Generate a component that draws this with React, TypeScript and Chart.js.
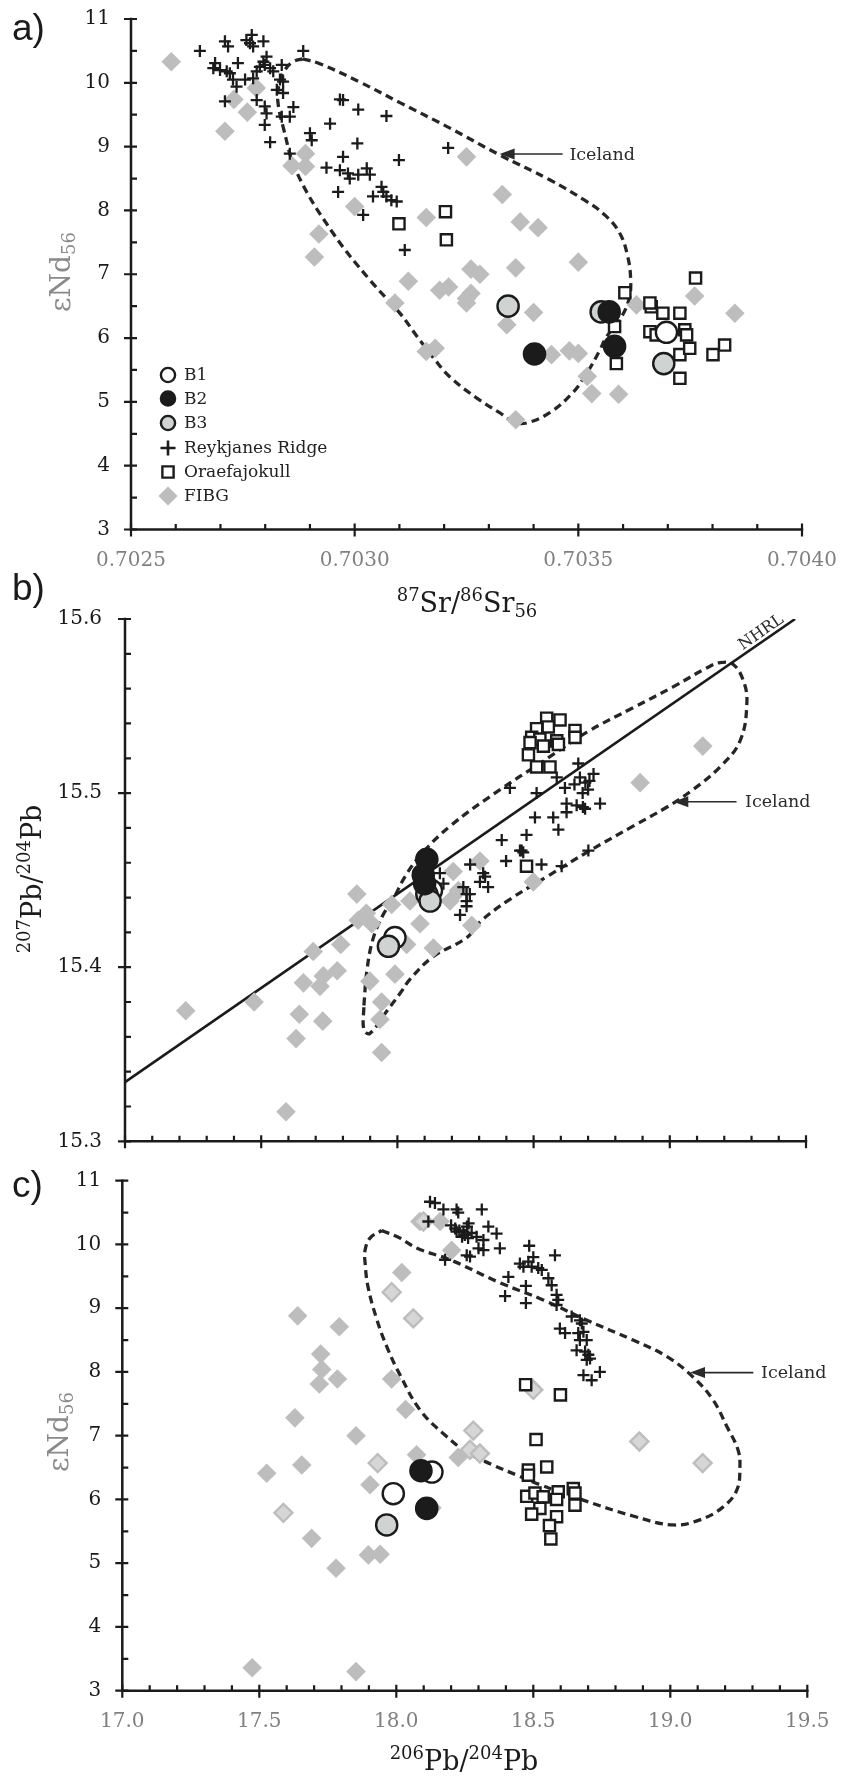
import React, { useEffect, useRef } from 'react';
import { Chart, registerables } from 'chart.js';

Chart.register(...registerables);

type Pt = [number, number];

// ---------------- Panel a : εNd56 vs 87Sr/86Sr56 ----------------
const A_X_TICKS = [0.7025, 0.703, 0.7035, 0.704];
const A_Y_TICKS = [3, 4, 5, 6, 7, 8, 9, 10, 11];

const A_B1: Pt[] = [[0.703697, 6.09]];
const A_B2: Pt[] = [[0.703402, 5.75], [0.703569, 6.41], [0.703581, 5.87]];
const A_B3: Pt[] = [[0.703343, 6.5], [0.703551, 6.41], [0.703691, 5.6]];

const A_REYKJANES: Pt[] = [
  [0.702654, 10.5], [0.70271, 10.65], [0.702717, 10.57], [0.702758, 10.67], [0.70277, 10.75],
  [0.702766, 10.62], [0.702773, 10.57], [0.702796, 10.65], [0.702688, 10.31], [0.702684, 10.23],
  [0.702699, 10.2], [0.702714, 10.18], [0.702721, 10.15], [0.702739, 10.31], [0.702728, 10.05],
  [0.702736, 9.94], [0.702755, 10.05], [0.702773, 10.07], [0.702781, 10.18], [0.702788, 10.25],
  [0.702796, 10.33], [0.702803, 10.41], [0.702799, 10.28], [0.702811, 10.23], [0.702818, 10.18],
  [0.702837, 10.28], [0.702833, 10.05], [0.70284, 10.02], [0.702826, 9.89], [0.70284, 9.84],
  [0.70271, 9.71], [0.702781, 9.73], [0.702799, 9.63], [0.702803, 9.52], [0.702799, 9.34],
  [0.702837, 9.47], [0.702855, 9.47], [0.702863, 9.62], [0.702811, 9.07], [0.702855, 8.89],
  [0.702885, 10.5], [0.7029, 9.21], [0.702904, 9.1], [0.702945, 9.36], [0.702967, 9.74],
  [0.702974, 9.73], [0.703008, 9.58], [0.703071, 9.48], [0.703006, 9.05], [0.702974, 8.84],
  [0.703099, 8.79], [0.702937, 8.67], [0.702967, 8.63], [0.702985, 8.58], [0.702989, 8.5],
  [0.703008, 8.56], [0.703027, 8.66], [0.703034, 8.56], [0.702963, 8.29], [0.703041, 8.22],
  [0.70306, 8.37], [0.703064, 8.29], [0.703071, 8.22], [0.703082, 8.16], [0.703094, 8.14],
  [0.703019, 7.93], [0.703112, 7.38], [0.703209, 8.98],
];

const A_ORAEFAJOKULL: Pt[] = [
  [0.703099, 7.79], [0.703203, 7.98], [0.703205, 7.54], [0.703604, 6.71], [0.703762, 6.94],
  [0.703663, 6.49], [0.703689, 6.39], [0.703727, 6.39], [0.703581, 6.18], [0.70366, 6.1],
  [0.703674, 6.05], [0.703738, 6.13], [0.703742, 6.05], [0.703727, 5.74], [0.703749, 5.84],
  [0.703801, 5.74], [0.703827, 5.89], [0.703585, 5.6], [0.703727, 5.37], [0.70366, 6.55],
];

const A_FIBG: Pt[] = [
  [0.70259, 10.33], [0.70273, 9.74], [0.70278, 9.92], [0.70276, 9.54], [0.70271, 9.24],
  [0.70289, 8.89], [0.70286, 8.7], [0.70289, 8.69], [0.703, 8.06], [0.70292, 7.63],
  [0.70291, 7.27], [0.70312, 6.89], [0.70316, 7.89], [0.70325, 8.84], [0.70333, 8.25],
  [0.70337, 7.82], [0.70341, 7.73], [0.7035, 7.19], [0.70336, 7.1], [0.70326, 7.08],
  [0.70328, 7.0], [0.70319, 6.75], [0.70321, 6.8], [0.70326, 6.7], [0.70376, 6.66],
  [0.70325, 6.62], [0.70325, 6.55], [0.7034, 6.4], [0.70334, 6.21], [0.70385, 6.39],
  [0.70363, 6.52], [0.70316, 5.79], [0.70318, 5.84], [0.70344, 5.74], [0.70348, 5.8],
  [0.7035, 5.76], [0.70352, 5.4], [0.70353, 5.13], [0.70359, 5.12], [0.70336, 4.72],
  [0.70309, 6.55],
];

const A_ICELAND: Pt[] = [
  [0.702884, 10.375], [0.702922, 10.3], [0.703012, 10.01], [0.703101, 9.69], [0.703213, 9.29],
  [0.703324, 8.87], [0.703436, 8.48], [0.703514, 8.16], [0.703559, 7.93], [0.703592, 7.65],
  [0.70361, 7.29], [0.703617, 6.91], [0.703613, 6.6], [0.703592, 6.28], [0.703563, 6.02],
  [0.703548, 5.81], [0.703519, 5.45], [0.703487, 5.14], [0.703436, 4.83], [0.703385, 4.67],
  [0.703358, 4.68], [0.703324, 4.83], [0.703273, 5.06], [0.703213, 5.39], [0.703175, 5.7],
  [0.703139, 6.03], [0.703101, 6.39], [0.703034, 6.91], [0.702951, 7.65], [0.702871, 8.59],
  [0.70284, 9.31], [0.702828, 9.73], [0.702831, 9.97], [0.702844, 10.2], [0.702862, 10.33],
  [0.702884, 10.375],
];

// ---------------- Panel b : 207Pb/204Pb vs 206Pb/204Pb ----------------
const B_X_TICKS = [17.0, 17.5, 18.0, 18.5, 19.0, 19.5];
const B_Y_TICKS = [15.3, 15.4, 15.5, 15.6];

const B_B1: Pt[] = [[17.991, 15.417], [18.125, 15.444]];
const B_B2: Pt[] = [[18.108, 15.462], [18.095, 15.453], [18.1, 15.448]];
const B_B3: Pt[] = [[18.108, 15.442], [18.12, 15.438], [17.967, 15.412]];

const B_REYKJANES: Pt[] = [
  [18.413, 15.503], [18.511, 15.5], [18.664, 15.517], [18.585, 15.509], [18.615, 15.503],
  [18.65, 15.505], [18.67, 15.509], [18.69, 15.506], [18.705, 15.507], [18.72, 15.511],
  [18.68, 15.5], [18.7, 15.502], [18.621, 15.494], [18.621, 15.489], [18.658, 15.493],
  [18.681, 15.492], [18.689, 15.491], [18.744, 15.494], [18.505, 15.486], [18.572, 15.486],
  [18.591, 15.479], [18.474, 15.476], [18.383, 15.473], [18.45, 15.467], [18.456, 15.467],
  [18.462, 15.466], [18.399, 15.461], [18.529, 15.459], [18.603, 15.458], [18.701, 15.467],
  [18.267, 15.459], [18.315, 15.454], [18.322, 15.452], [18.303, 15.449], [18.333, 15.446],
  [18.242, 15.446], [18.254, 15.442], [18.266, 15.442], [18.254, 15.438], [18.254, 15.435],
  [18.23, 15.43], [18.156, 15.454], [18.169, 15.448],
];

const B_ORAEFAJOKULL: Pt[] = [
  [18.548, 15.543], [18.597, 15.542], [18.511, 15.537], [18.554, 15.538], [18.652, 15.536],
  [18.493, 15.532], [18.523, 15.531], [18.585, 15.53], [18.652, 15.532], [18.487, 15.529],
  [18.591, 15.528], [18.481, 15.522], [18.536, 15.527], [18.511, 15.515], [18.56, 15.515],
  [18.474, 15.458],
];

const B_FIBG: Pt[] = [
  [17.223, 15.375], [17.474, 15.38], [17.591, 15.317], [17.628, 15.359], [17.64, 15.373],
  [17.655, 15.391], [17.691, 15.409], [17.716, 15.389], [17.726, 15.369], [17.728, 15.395],
  [17.779, 15.398], [17.792, 15.413], [17.899, 15.392], [17.942, 15.38], [17.936, 15.37],
  [17.942, 15.351], [17.991, 15.396], [18.034, 15.413], [17.856, 15.427], [17.906, 15.425],
  [17.851, 15.442], [17.886, 15.431], [17.979, 15.436], [18.046, 15.438], [18.303, 15.461],
  [18.205, 15.455], [18.224, 15.444], [18.193, 15.438], [18.273, 15.424], [18.499, 15.449],
  [18.891, 15.506], [19.121, 15.527], [18.083, 15.425], [18.132, 15.411],
];

const B_NHRL: Pt[] = [[17.0, 15.334], [19.46, 15.6]];

const B_ICELAND: Pt[] = [
  [17.877, 15.378], [17.888, 15.398], [17.91, 15.416], [17.947, 15.43], [17.984, 15.439],
  [18.028, 15.452], [18.083, 15.464], [18.193, 15.481], [18.377, 15.502], [18.523, 15.517],
  [18.696, 15.535], [18.865, 15.549], [19.012, 15.561], [19.137, 15.572], [19.185, 15.575],
  [19.232, 15.574], [19.269, 15.565], [19.283, 15.552], [19.258, 15.53], [19.184, 15.515],
  [19.085, 15.502], [18.99, 15.492], [18.865, 15.481], [18.696, 15.466], [18.549, 15.452],
  [18.413, 15.439], [18.303, 15.426], [18.255, 15.417], [18.131, 15.406], [18.046, 15.393],
  [18.01, 15.385], [17.962, 15.375], [17.899, 15.362], [17.877, 15.364], [17.877, 15.378],
];

// ---------------- Panel c : εNd56 vs 206Pb/204Pb ----------------
const C_X_TICKS = [17.0, 17.5, 18.0, 18.5, 19.0, 19.5];
const C_Y_TICKS = [3, 4, 5, 6, 7, 8, 9, 10, 11];

const C_B1: Pt[] = [[17.989, 6.09], [18.13, 6.43]];
const C_B2: Pt[] = [[18.09, 6.45], [18.111, 5.86]];
const C_B3: Pt[] = [[17.965, 5.6]];

const C_REYKJANES: Pt[] = [
  [18.123, 10.67], [18.141, 10.65], [18.172, 10.55], [18.22, 10.55], [18.226, 10.5],
  [18.312, 10.55], [18.117, 10.36], [18.2, 10.3], [18.215, 10.25], [18.23, 10.22],
  [18.245, 10.2], [18.258, 10.28], [18.264, 10.33], [18.25, 10.15], [18.262, 10.1],
  [18.275, 10.18], [18.24, 10.12], [18.22, 10.2], [18.336, 10.28], [18.366, 10.17],
  [18.293, 10.12], [18.318, 10.07], [18.3, 9.94], [18.318, 9.91], [18.378, 9.94],
  [18.257, 9.83], [18.269, 9.81], [18.178, 9.76], [18.485, 9.98], [18.579, 9.83],
  [18.5, 9.8], [18.482, 9.73], [18.451, 9.7], [18.464, 9.65], [18.494, 9.65],
  [18.518, 9.63], [18.531, 9.6], [18.555, 9.47], [18.567, 9.36], [18.409, 9.49],
  [18.473, 9.35], [18.397, 9.19], [18.473, 9.08], [18.585, 9.21], [18.591, 9.13],
  [18.585, 9.05], [18.64, 8.87], [18.67, 8.81], [18.677, 8.76], [18.597, 8.68],
  [18.616, 8.61], [18.664, 8.61], [18.683, 8.63], [18.67, 8.5], [18.695, 8.5],
  [18.658, 8.34], [18.689, 8.32], [18.701, 8.27], [18.695, 8.19], [18.707, 8.21],
  [18.683, 7.95], [18.713, 7.87], [18.743, 8.0],
];

const C_ORAEFAJOKULL: Pt[] = [
  [18.472, 7.8], [18.599, 7.64], [18.51, 6.94], [18.482, 6.46], [18.549, 6.51],
  [18.482, 6.38], [18.476, 6.05], [18.506, 6.1], [18.536, 6.04], [18.591, 6.12],
  [18.585, 6.0], [18.646, 6.17], [18.652, 6.1], [18.652, 5.91], [18.524, 5.86],
  [18.494, 5.77], [18.585, 5.73], [18.559, 5.59], [18.564, 5.38],
];

const C_FIBG: Pt[] = [
  [17.64, 8.88], [17.792, 8.71], [17.724, 8.28], [17.728, 8.04], [17.719, 7.81],
  [17.785, 7.89], [17.983, 7.89], [17.63, 7.28], [17.853, 7.0], [18.02, 9.56],
  [18.034, 7.41], [17.655, 6.54], [17.527, 6.41], [18.086, 10.36], [18.16, 10.36],
  [18.202, 9.91], [18.226, 6.66], [18.074, 6.7], [17.904, 6.23], [17.691, 5.39],
  [17.78, 4.92], [17.898, 5.13], [17.941, 5.14], [17.474, 3.36], [17.853, 3.3],
  [18.13, 5.87],
];

const C_FIBG_PALE: Pt[] = [
  [17.983, 9.25], [18.062, 8.84], [17.932, 6.57], [18.099, 10.36], [18.5, 7.72],
  [18.281, 7.08], [18.269, 6.78], [18.305, 6.72], [18.887, 6.91], [19.118, 6.57],
  [17.588, 5.79],
];

const C_ICELAND: Pt[] = [
  [17.947, 10.22], [18.013, 10.1], [18.076, 9.94], [18.196, 9.76], [18.378, 9.4],
  [18.536, 9.13], [18.696, 8.81], [18.864, 8.5], [18.988, 8.24], [19.083, 7.92],
  [19.156, 7.56], [19.207, 7.14], [19.247, 6.78], [19.254, 6.51], [19.243, 6.15],
  [19.192, 5.88], [19.108, 5.68], [19.01, 5.6], [18.864, 5.74], [18.682, 5.99],
  [18.525, 6.23], [18.441, 6.38], [18.353, 6.54], [18.258, 6.74], [18.17, 7.04],
  [18.087, 7.4], [18.014, 7.95], [17.966, 8.39], [17.93, 8.81], [17.897, 9.33],
  [17.886, 9.72], [17.886, 9.91], [17.904, 10.1], [17.947, 10.22],
];

const LEGEND_LABELS = ['B1', 'B2', 'B3', 'Reykjanes Ridge', 'Oraefajokull', 'FIBG'];

// ---------------- styling ----------------
const SERIF = "'DejaVu Serif', serif";
const SANS = "'Liberation Sans', Arial, sans-serif";
const INK = '#1b1b1b';
const GRAY_TXT = '#808080';
const DIAMOND = '#bdbdbd';
const PALE_FILL = '#d6d6d6';
const B3_FILL = '#cfd3d1';

const toXY = (a: Pt[]) => a.map(([x, y]) => ({ x, y }));

const circleDs = (label: string, d: Pt[], fill: string) => ({
  label, data: toXY(d), showLine: false, pointStyle: 'circle', pointRadius: 10.6,
  pointBackgroundColor: fill, pointBorderColor: INK, pointBorderWidth: 2.4,
});
const crossDs = (label: string, d: Pt[]) => ({
  label, data: toXY(d), showLine: false, pointStyle: 'cross', pointRadius: 6,
  pointBorderColor: INK, pointBackgroundColor: INK, pointBorderWidth: 2.3,
});
const squareDs = (label: string, d: Pt[]) => ({
  label, data: toXY(d), showLine: false, pointStyle: 'rect', pointRadius: 7.9,
  pointBackgroundColor: '#ffffff', pointBorderColor: INK, pointBorderWidth: 2.4,
});
const diamondDs = (label: string, d: Pt[]) => ({
  label, data: toXY(d), showLine: false, pointStyle: 'rectRot', pointRadius: 9.8,
  pointBackgroundColor: DIAMOND, pointBorderColor: DIAMOND, pointBorderWidth: 0,
});
const paleDiamondDs = (label: string, d: Pt[]) => ({
  label, data: toXY(d), showLine: false, pointStyle: 'rectRot', pointRadius: 9,
  pointBackgroundColor: PALE_FILL, pointBorderColor: DIAMOND, pointBorderWidth: 2.4,
});
const dashedDs = (label: string, d: Pt[]) => ({
  label, data: toXY(d), showLine: true, pointRadius: 0, borderColor: '#262626',
  borderWidth: 3.3, borderDash: [8, 5], tension: 0.4, fill: false,
});
const solidDs = (label: string, d: Pt[]) => ({
  label, data: toXY(d), showLine: true, pointRadius: 0, borderColor: INK,
  borderWidth: 2.6, tension: 0, fill: false,
});

type Seg = { t: string; s?: 'sup' | 'sub' };

function segFont(g: Seg, base: number) {
  return `${g.s ? Math.round(base * 0.66) : base}px ${SERIF}`;
}
function drawRich(ctx: any, segs: Seg[], x: number, y: number, base: number, color: string, align: string) {
  let w = 0;
  for (const g of segs) { ctx.font = segFont(g, base); w += ctx.measureText(g.t).width; }
  let cx = align === 'center' ? x - w / 2 : x;
  ctx.fillStyle = color;
  ctx.textAlign = 'left';
  ctx.textBaseline = 'alphabetic';
  for (const g of segs) {
    ctx.font = segFont(g, base);
    const dy = g.s === 'sup' ? -base * 0.4 : g.s === 'sub' ? base * 0.18 : 0;
    ctx.fillText(g.t, cx, y + dy);
    cx += ctx.measureText(g.t).width;
  }
}
function drawRotRich(ctx: any, segs: Seg[], bx: number, cy: number, base: number, color: string) {
  ctx.save();
  ctx.translate(bx, cy);
  ctx.rotate(-Math.PI / 2);
  drawRich(ctx, segs, 0, 0, base, color, 'center');
  ctx.restore();
}
function drawPanelLetter(ctx: any, t: string, x: number, y: number) {
  ctx.save();
  ctx.font = `37px ${SANS}`;
  ctx.fillStyle = INK;
  ctx.textAlign = 'left';
  ctx.textBaseline = 'alphabetic';
  ctx.fillText(t, x, y);
  ctx.restore();
}
function drawIcelandLabel(chart: any, lab: { x: number; y: number; tail: number; text: number }) {
  const { ctx } = chart;
  const xs = chart.scales.x, ys = chart.scales.y;
  const tx = xs.getPixelForValue(lab.x), ty = ys.getPixelForValue(lab.y);
  const tail = xs.getPixelForValue(lab.tail);
  ctx.save();
  ctx.strokeStyle = '#2a2a2a';
  ctx.fillStyle = '#2a2a2a';
  ctx.lineWidth = 1.6;
  ctx.beginPath();
  ctx.moveTo(tx + 10, ty);
  ctx.lineTo(tail, ty);
  ctx.stroke();
  ctx.beginPath();
  ctx.moveTo(tx, ty);
  ctx.lineTo(tx + 15, ty - 5.5);
  ctx.lineTo(tx + 15, ty + 5.5);
  ctx.closePath();
  ctx.fill();
  ctx.font = `17.5px ${SERIF}`;
  ctx.textAlign = 'left';
  ctx.textBaseline = 'middle';
  ctx.fillText('Iceland', xs.getPixelForValue(lab.text), ty + 1);
  ctx.restore();
}

function drawLegend(ctx: any, mx: number, tx: number, rows: number[]) {
  ctx.save();
  rows.forEach((y, i) => {
    ctx.lineWidth = 2.4;
    ctx.strokeStyle = INK;
    if (i < 3) {
      ctx.beginPath();
      ctx.arc(mx, y, 7.1, 0, Math.PI * 2);
      ctx.fillStyle = i === 0 ? '#ffffff' : i === 1 ? INK : B3_FILL;
      ctx.fill();
      ctx.stroke();
    } else if (i === 3) {
      ctx.lineWidth = 2.6;
      ctx.beginPath();
      ctx.moveTo(mx - 7.5, y); ctx.lineTo(mx + 7.5, y);
      ctx.moveTo(mx, y - 7.5); ctx.lineTo(mx, y + 7.5);
      ctx.stroke();
    } else if (i === 4) {
      ctx.fillStyle = '#ffffff';
      ctx.beginPath();
      ctx.rect(mx - 5.6, y - 5.6, 11.2, 11.2);
      ctx.fill();
      ctx.stroke();
    } else {
      ctx.fillStyle = DIAMOND;
      ctx.beginPath();
      ctx.moveTo(mx - 9.6, y); ctx.lineTo(mx, y - 9.6); ctx.lineTo(mx + 9.6, y); ctx.lineTo(mx, y + 9.6);
      ctx.closePath();
      ctx.fill();
    }
    ctx.fillStyle = '#222222';
    ctx.font = `17px ${SERIF}`;
    ctx.textAlign = 'left';
    ctx.textBaseline = 'middle';
    ctx.fillText(LEGEND_LABELS[i], tx, y + 1);
  });
  ctx.restore();
}

function minorValues(min: number, max: number, step: number, majors: number[]) {
  const n = Math.round((max - min) / step);
  const out: number[] = [];
  for (let i = 0; i <= n; i++) {
    const v = min + i * step;
    if (!majors.some((m) => Math.abs(m - v) < step / 10)) out.push(v);
  }
  return out;
}

type Spec = {
  height: number; padTop: number; padRight: number; yWidth: number; xHeight: number;
  xMin: number; xMax: number; yMin: number; yMax: number;
  xTicks: number[]; yTicks: number[]; xMinor: number; yMinor: number;
  xDigits: number; yDigits: number; showXLabels: boolean; yPad: number;
  datasets: any[]; decorate: (chart: any) => void;
};

function drawAxes(chart: any, s: Spec) {
  const { ctx, chartArea: ca } = chart;
  const xs = chart.scales.x, ys = chart.scales.y;
  ctx.save();
  ctx.strokeStyle = INK;
  ctx.lineCap = 'butt';
  ctx.lineWidth = 2.5;
  ctx.beginPath();
  ctx.moveTo(ca.left, ca.top - 1.2);
  ctx.lineTo(ca.left, ca.bottom);
  ctx.lineTo(ca.right + 1.2, ca.bottom);
  ctx.stroke();
  ctx.lineWidth = 2.2;
  ctx.beginPath();
  for (const v of s.yTicks) {
    const p = ys.getPixelForValue(v);
    ctx.moveTo(ca.left - 7, p); ctx.lineTo(ca.left + 6, p);
  }
  for (const v of minorValues(s.yMin, s.yMax, s.yMinor, s.yTicks)) {
    const p = ys.getPixelForValue(v);
    ctx.moveTo(ca.left, p); ctx.lineTo(ca.left + 6, p);
  }
  for (const v of s.xTicks) {
    const p = xs.getPixelForValue(v);
    ctx.moveTo(p, ca.bottom - 6); ctx.lineTo(p, ca.bottom + 7);
  }
  for (const v of minorValues(s.xMin, s.xMax, s.xMinor, s.xTicks)) {
    const p = xs.getPixelForValue(v);
    ctx.moveTo(p, ca.bottom - 5.5); ctx.lineTo(p, ca.bottom);
  }
  ctx.stroke();
  ctx.restore();
}

function buildConfig(s: Spec): any {
  const zeroPad = (sc: any) => { sc.paddingLeft = 0; sc.paddingRight = 0; sc.paddingTop = 0; sc.paddingBottom = 0; };
  return {
    type: 'scatter',
    data: { datasets: s.datasets },
    options: {
      responsive: false,
      animation: false,
      events: [],
      layout: { padding: { top: s.padTop, right: s.padRight, left: 0, bottom: 0 } },
      plugins: { legend: { display: false }, tooltip: { enabled: false } },
      scales: {
        x: {
          type: 'linear', position: 'bottom', min: s.xMin, max: s.xMax,
          grid: { display: false, drawTicks: false }, border: { display: false },
          afterBuildTicks: (sc: any) => { sc.ticks = s.xTicks.map((v) => ({ value: v })); },
          afterFit: (sc: any) => { sc.height = s.xHeight; zeroPad(sc); },
          ticks: {
            display: s.showXLabels, autoSkip: false, maxRotation: 0, minRotation: 0, padding: 19,
            color: GRAY_TXT, font: { family: SERIF, size: 20 },
            callback: (v: any) => Number(v).toFixed(s.xDigits),
          },
        },
        y: {
          type: 'linear', position: 'left', min: s.yMin, max: s.yMax,
          grid: { display: false, drawTicks: false }, border: { display: false },
          afterBuildTicks: (sc: any) => { sc.ticks = s.yTicks.map((v) => ({ value: v })); },
          afterFit: (sc: any) => { sc.width = s.yWidth; zeroPad(sc); },
          ticks: {
            autoSkip: false, padding: s.yPad, color: '#1a1a1a', font: { family: SERIF, size: 20 },
            callback: (v: any) => Number(v).toFixed(s.yDigits),
          },
        },
      },
    },
    plugins: [{
      id: 'panelDecor',
      beforeDatasetsDraw: (chart: any) => drawAxes(chart, s),
      afterDraw: (chart: any) => s.decorate(chart),
    }],
  };
}

const EPS_TITLE: Seg[] = [{ t: 'εNd' }, { t: '56', s: 'sub' }];

const SPEC_A: Spec = {
  height: 640, padTop: 19, padRight: 40, yWidth: 131, xHeight: 110.5,
  xMin: 0.7025, xMax: 0.704, yMin: 3, yMax: 11,
  xTicks: A_X_TICKS, yTicks: A_Y_TICKS, xMinor: 0.0001, yMinor: 0.5,
  xDigits: 4, yDigits: 0, showXLabels: true, yPad: 21,
  datasets: [
    circleDs('B2', A_B2, INK), circleDs('B3', A_B3, B3_FILL), circleDs('B1', A_B1, '#ffffff'),
    squareDs('Oraefajokull', A_ORAEFAJOKULL), crossDs('Reykjanes Ridge', A_REYKJANES),
    diamondDs('FIBG', A_FIBG), dashedDs('Iceland', A_ICELAND),
  ],
  decorate: (chart: any) => {
    const { ctx } = chart;
    drawPanelLetter(ctx, 'a)', 12, 40);
    drawRotRich(ctx, EPS_TITLE, 70, 272, 28, '#8a8a8a');
    drawRich(ctx, [{ t: '87', s: 'sup' }, { t: 'Sr/' }, { t: '86', s: 'sup' }, { t: 'Sr' }, { t: '56', s: 'sub' }], 467, 612, 27, INK, 'center');
    drawIcelandLabel(chart, { x: 0.703324, y: 8.885, tail: 0.703465, text: 0.70348 });
    drawLegend(ctx, 168, 184, [375, 398.5, 423, 448, 472, 496]);
  },
};

const SPEC_B: Spec = {
  height: 600, padTop: 59, padRight: 36, yWidth: 125, xHeight: 18.7,
  xMin: 17, xMax: 19.5, yMin: 15.3, yMax: 15.6,
  xTicks: B_X_TICKS, yTicks: B_Y_TICKS, xMinor: 0.1, yMinor: 0.02,
  xDigits: 1, yDigits: 1, showXLabels: false, yPad: 23,
  datasets: [
    circleDs('B2', B_B2, INK), circleDs('B3', B_B3, B3_FILL), circleDs('B1', B_B1, '#ffffff'),
    squareDs('Oraefajokull', B_ORAEFAJOKULL), crossDs('Reykjanes Ridge', B_REYKJANES),
    diamondDs('FIBG', B_FIBG), solidDs('NHRL', B_NHRL), dashedDs('Iceland', B_ICELAND),
  ],
  decorate: (chart: any) => {
    const { ctx } = chart;
    const xs = chart.scales.x, ys = chart.scales.y;
    drawPanelLetter(ctx, 'b)', 12, 40);
    drawRotRich(ctx, [{ t: '207', s: 'sup' }, { t: 'Pb/' }, { t: '204', s: 'sup' }, { t: 'Pb' }], 41, 319, 27, INK);
    drawIcelandLabel(chart, { x: 19.013, y: 15.495, tail: 19.245, text: 19.276 });
    // NHRL label along the line
    const x0 = xs.getPixelForValue(B_NHRL[0][0]), y0 = ys.getPixelForValue(B_NHRL[0][1]);
    const x1 = xs.getPixelForValue(B_NHRL[1][0]), y1 = ys.getPixelForValue(B_NHRL[1][1]);
    const a = Math.atan2(y1 - y0, x1 - x0);
    const fx = xs.getPixelForValue(19.353);
    const fy = y0 + (fx - x0) * (y1 - y0) / (x1 - x0);
    const nx = Math.sin(a), ny = -Math.cos(a);
    ctx.save();
    ctx.translate(fx + nx * 4, fy + ny * 4);
    ctx.rotate(a);
    ctx.font = `16px ${SERIF}`;
    ctx.fillStyle = '#2a2a2a';
    ctx.textAlign = 'center';
    ctx.textBaseline = 'alphabetic';
    ctx.fillText('NHRL', 0, 0);
    ctx.restore();
  },
};

const SPEC_C: Spec = {
  height: 629, padTop: 30.7, padRight: 34.7, yWidth: 122.3, xHeight: 88.3,
  xMin: 17, xMax: 19.5, yMin: 3, yMax: 11,
  xTicks: C_X_TICKS, yTicks: C_Y_TICKS, xMinor: 0.1, yMinor: 0.5,
  xDigits: 1, yDigits: 0, showXLabels: true, yPad: 21,
  datasets: [
    circleDs('B2', C_B2, INK), circleDs('B3', C_B3, B3_FILL), circleDs('B1', C_B1, '#ffffff'),
    squareDs('Oraefajokull', C_ORAEFAJOKULL), crossDs('Reykjanes Ridge', C_REYKJANES),
    paleDiamondDs('FIBG (pale)', C_FIBG_PALE), diamondDs('FIBG', C_FIBG), dashedDs('Iceland', C_ICELAND),
  ],
  decorate: (chart: any) => {
    const { ctx } = chart;
    drawPanelLetter(ctx, 'c)', 12, 47);
    drawRotRich(ctx, EPS_TITLE, 68, 282, 28, '#8a8a8a');
    drawRich(ctx, [{ t: '206', s: 'sup' }, { t: 'Pb/' }, { t: '204', s: 'sup' }, { t: 'Pb' }], 464, 620, 27, INK, 'center');
    drawIcelandLabel(chart, { x: 19.072, y: 7.99, tail: 19.303, text: 19.331 });
  },
};

function Panel({ spec, top }: { spec: Spec; top: number }) {
  const ref = useRef<HTMLCanvasElement | null>(null);
  useEffect(() => {
    const chart = new Chart(ref.current as HTMLCanvasElement, buildConfig(spec));
    return () => chart.destroy();
  }, [spec]);
  return (
    <canvas
      ref={ref}
      width={842}
      height={spec.height}
      style={{ position: 'absolute', left: 0, top, width: 842, height: spec.height }}
    />
  );
}

export default function App() {
  return (
    <div style={{ position: 'absolute', left: 0, top: 0, width: 842, height: 1779, background: '#ffffff' }}>
      <Panel spec={SPEC_A} top={0} />
      <Panel spec={SPEC_B} top={560} />
      <Panel spec={SPEC_C} top={1150} />
    </div>
  );
}
